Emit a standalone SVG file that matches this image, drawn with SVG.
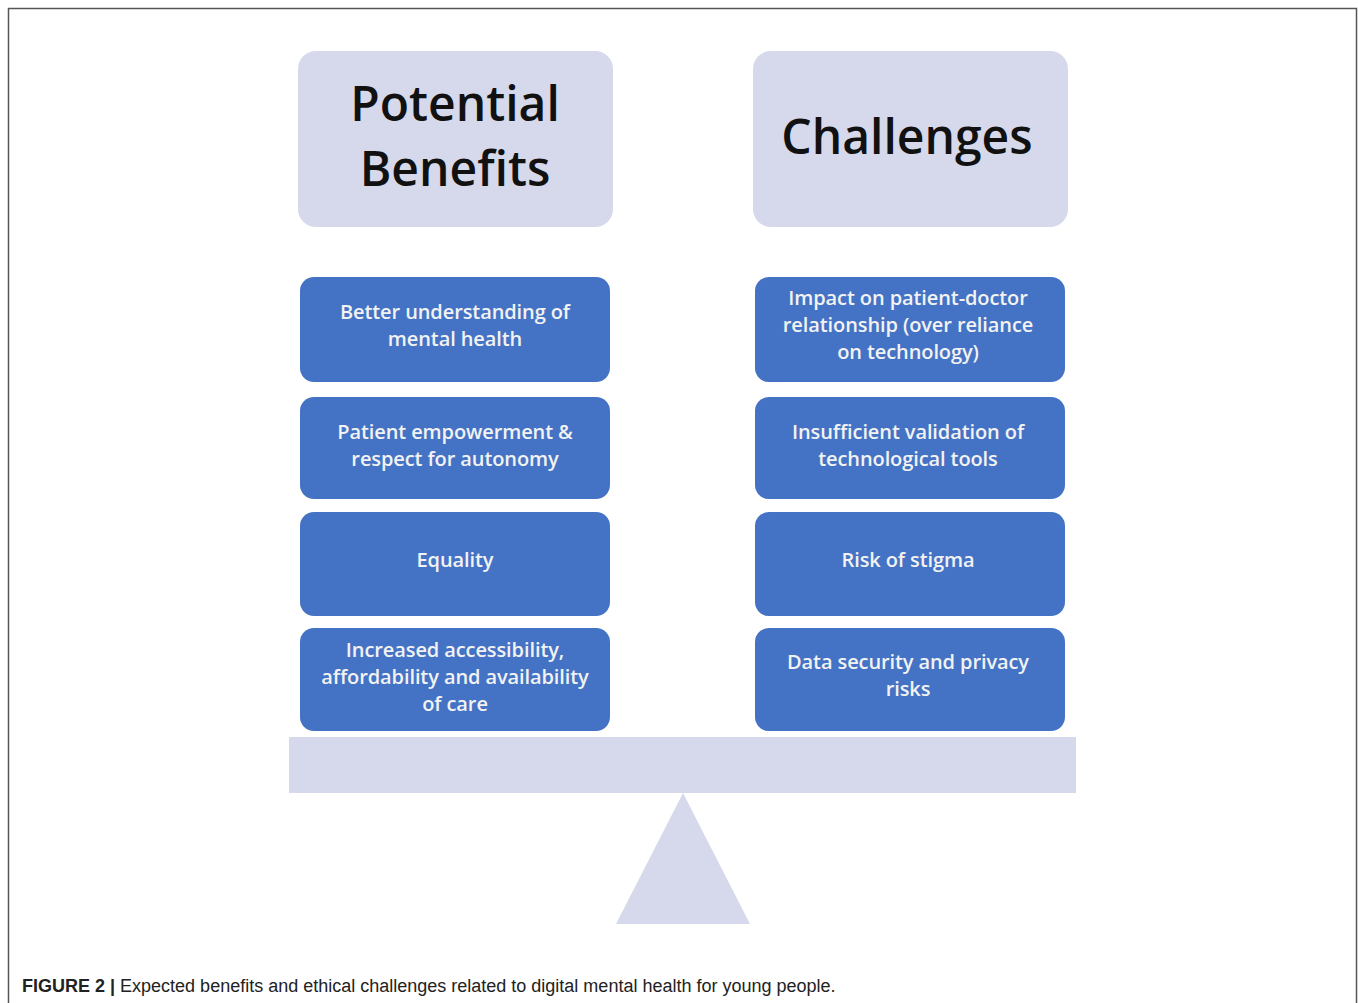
<svg xmlns="http://www.w3.org/2000/svg" width="1358" height="1003" viewBox="0 0 1358 1003">
<style>
.hdr{fill:#D5D9EB}
.box{fill:#4472C4}
.ht{font-family:"Open Sans",sans-serif;font-size:48px;fill:#111;text-anchor:middle;font-weight:600}
.bt{font-family:"Open Sans",sans-serif;font-size:20px;fill:#F2F2F2;text-anchor:middle;font-weight:600;letter-spacing:-0.1px}
.cap{font-family:"Liberation Sans",Arial,sans-serif;font-size:18px;fill:#222}
</style>
<rect x="0" y="0" width="1358" height="1003" fill="#fff"/>
<path d="M8.5 1003 V8.5 H1356.5 V1003" fill="none" stroke="#555" stroke-width="1.5"/>
<g id="hdr-benefits"><rect class="hdr" x="298" y="51" width="315" height="176" rx="18"/><text class="ht" x="455" y="121">Potential</text><text class="ht" x="455" y="186">Benefits</text></g>
<g id="hdr-challenges"><rect class="hdr" x="753" y="51" width="315" height="176" rx="18"/><text class="ht" x="907" y="154">Challenges</text></g>
<g id="b1"><rect class="box" x="300" y="277" width="310" height="105" rx="14"/><text class="bt" x="455" y="319">Better understanding of</text><text class="bt" x="455" y="346">mental health</text></g>
<g id="b2"><rect class="box" x="300" y="397" width="310" height="102" rx="14"/><text class="bt" x="455" y="439">Patient empowerment &amp;</text><text class="bt" x="455" y="466">respect for autonomy</text></g>
<g id="b3"><rect class="box" x="300" y="512" width="310" height="104" rx="14"/><text class="bt" x="455" y="567">Equality</text></g>
<g id="b4"><rect class="box" x="300" y="628" width="310" height="103" rx="14"/><text class="bt" x="455" y="657">Increased accessibility,</text><text class="bt" x="455" y="684">affordability and availability</text><text class="bt" x="455" y="711">of care</text></g>
<g id="c1"><rect class="box" x="755" y="277" width="310" height="105" rx="14"/><text class="bt" x="908" y="305">Impact on patient-doctor</text><text class="bt" x="908" y="332">relationship (over reliance</text><text class="bt" x="908" y="359">on technology)</text></g>
<g id="c2"><rect class="box" x="755" y="397" width="310" height="102" rx="14"/><text class="bt" x="908" y="439">Insufficient validation of</text><text class="bt" x="908" y="466">technological tools</text></g>
<g id="c3"><rect class="box" x="755" y="512" width="310" height="104" rx="14"/><text class="bt" x="908" y="567">Risk of stigma</text></g>
<g id="c4"><rect class="box" x="755" y="628" width="310" height="103" rx="14"/><text class="bt" x="908" y="669">Data security and privacy</text><text class="bt" x="908" y="696">risks</text></g>
<g id="scale"><rect class="hdr" x="289" y="737" width="787" height="56"/><polygon class="hdr" points="683,793 750,924 616,924"/></g>
<g id="connectors"></g>
<text class="cap" x="22" y="992"><tspan font-weight="bold">FIGURE 2 |</tspan> Expected benefits and ethical challenges related to digital mental health for young people.</text>
</svg>
